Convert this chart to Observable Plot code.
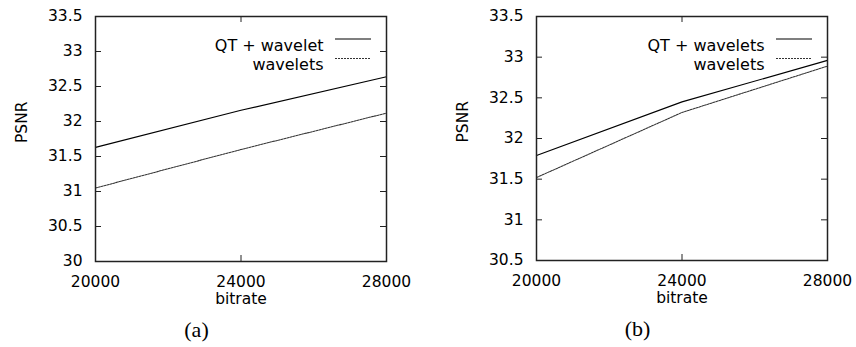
<!DOCTYPE html>
<html>
<head>
<meta charset="utf-8">
<script src="https://cdn.jsdelivr.net/npm/d3@7"></script>
<script src="https://cdn.jsdelivr.net/npm/@observablehq/plot@0.6"></script>
<style>
  html, body { margin: 0; padding: 0; background: #fff; }
  #wrap { display: flex; width: 856px; height: 347px; }
</style>
</head>
<body>
<div id="wrap"></div>
<script>
// ---- data ----
const bitrate = [20000, 24000, 28000];
const xTicks = [20000, 24000, 28000];

const seriesNames = ["QT + wavelet", "wavelets"];
const seriesNamesB = ["QT + wavelets", "wavelets"];

const psnrA_qt = [31.63, 32.16, 32.64];
const psnrA_wav = [31.05, 31.60, 32.12];
const psnrB_qt = [31.79, 32.45, 32.96];
const psnrB_wav = [31.52, 32.32, 32.89];

const yTicksA = [30, 30.5, 31, 31.5, 32, 32.5, 33, 33.5];
const yTicksB = [30.5, 31, 31.5, 32, 32.5, 33, 33.5];

const captions = ["(a)", "(b)"];

function panel({qt, wav, names, yTicks, yDomain, caption, marginLeft, marginRight, marginBottom}) {
  const W = 428, H = 347, marginTop = 16;
  const frameW = W - marginLeft - marginRight;
  const frameH = H - marginTop - marginBottom;
  const rows = [];
  bitrate.forEach((b, i) => rows.push({series: names[0], bitrate: b, psnr: qt[i]}));
  bitrate.forEach((b, i) => rows.push({series: names[1], bitrate: b, psnr: wav[i]}));
  const frameCenterY = marginTop + frameH / 2;
  const fs = 15.5;
  return Plot.plot({
    width: W, height: H,
    marginLeft, marginRight, marginTop, marginBottom,
    style: {fontFamily: "DejaVu Sans, sans-serif", fontSize: fs + "px", color: "#000", background: "#fff"},
    x: {domain: [20000, 28000]},
    y: {domain: yDomain},
    marks: [
      // inward ticks on all four sides
      Plot.tickX(xTicks, {x: d => d, insetTop: frameH - 6, stroke: "#222", strokeWidth: 1}),
      Plot.tickX(xTicks, {x: d => d, insetBottom: frameH - 6, stroke: "#222", strokeWidth: 1}),
      Plot.tickY(yTicks, {y: d => d, insetRight: frameW - 6, stroke: "#222", strokeWidth: 1}),
      Plot.tickY(yTicks, {y: d => d, insetLeft: frameW - 6, stroke: "#222", strokeWidth: 1}),
      Plot.axisX({ticks: xTicks, tickSize: 0, tickPadding: 14, tickFormat: d => String(d), label: null, fontSize: fs}),
      Plot.axisY({ticks: yTicks, tickSize: 0, tickPadding: 13, tickFormat: d => String(d), label: null, fontSize: fs}),
      // data lines
      Plot.line(rows.filter(d => d.series === names[0]), {x: "bitrate", y: "psnr", stroke: "#000", strokeWidth: 1.15}),
      Plot.line(rows.filter(d => d.series === names[1]), {x: "bitrate", y: "psnr", stroke: "#333", strokeWidth: 1.05, strokeDasharray: "2,1"}),
      Plot.frame({stroke: "#222", strokeWidth: 1.5}),
      // legend
      Plot.text([names[0]], {frameAnchor: "top-right", textAnchor: "end", dx: -63, dy: 23, fontSize: fs + 0.5}),
      Plot.text([names[1]], {frameAnchor: "top-right", textAnchor: "end", dx: -63, dy: 42.5, fontSize: fs + 0.5}),
      Plot.ruleY([names[0]], {y: null, insetLeft: frameW - 51, insetRight: 15, dy: 38.5 - frameCenterY, stroke: "#000", strokeWidth: 1.15}),
      Plot.ruleY([names[1]], {y: null, insetLeft: frameW - 51, insetRight: 15, dy: 58 - frameCenterY, stroke: "#333", strokeWidth: 1.05, strokeDasharray: "2,1"}),
      // axis titles
      Plot.text(["bitrate"], {frameAnchor: "bottom", dy: 42, fontSize: fs}),
      Plot.text(["PSNR"], {frameAnchor: "left", dx: -73, dy: 4, rotate: -90, fontSize: fs}),
      // caption
      Plot.text([caption], {frameAnchor: "bottom", dx: -44.5, dy: 75, fontFamily: "Liberation Serif, serif", fontSize: 22})
    ]
  });
}

const wrap = document.getElementById("wrap");
wrap.append(panel({qt: psnrA_qt, wav: psnrA_wav, names: seriesNames, yTicks: yTicksA, yDomain: [30, 33.5], caption: captions[0], marginLeft: 95, marginRight: 42, marginBottom: 86}));
wrap.append(panel({qt: psnrB_qt, wav: psnrB_wav, names: seriesNamesB, yTicks: yTicksB, yDomain: [30.5, 33.5], caption: captions[1], marginLeft: 108, marginRight: 29, marginBottom: 87}));
</script>
</body>
</html>
